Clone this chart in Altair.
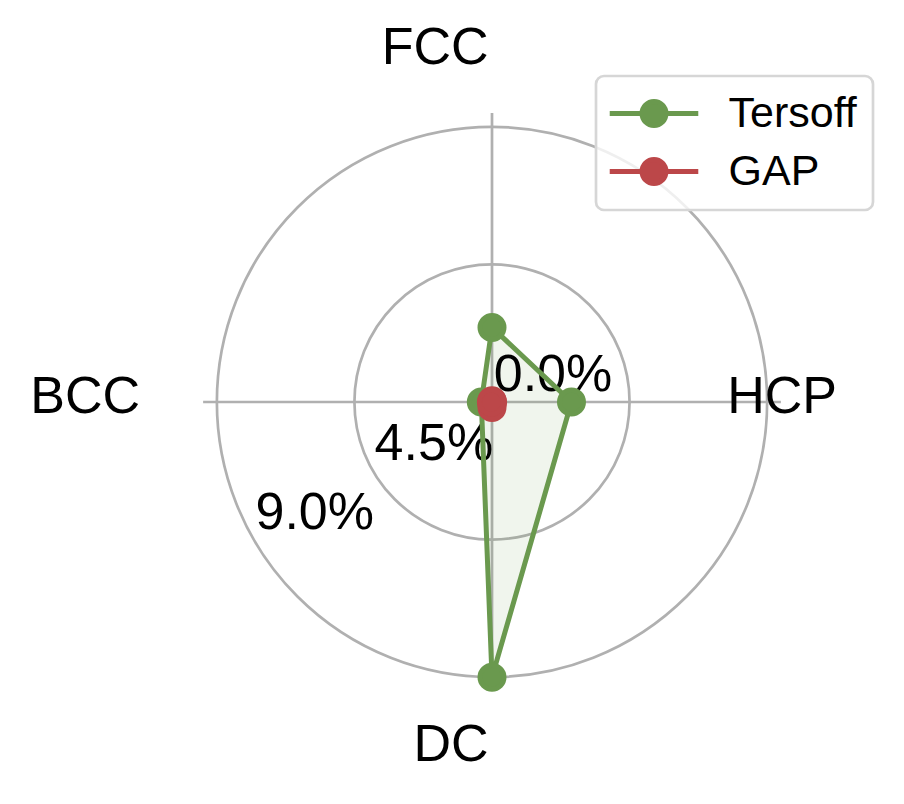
import math
import altair as alt
import pandas as pd

# ---------------- data ----------------
categories = ["FCC", "HCP", "DC", "BCC"]
series_names = ["Tersoff", "GAP"]
tersoff_values = [2.44, 2.60, 9.00, 0.35]
gap_values = [0.04, 0.02, 0.18, 0.02]
ring_values = [4.5, 9.0]
tick_values = [0.0, 4.5, 9.0]
tick_labels = ["0.0%", "4.5%", "9.0%"]
series_colors = ["#6a994e", "#bc4749"]

# ---------------- layout ----------------
FONT = "Liberation Sans"
N = len(categories)
W = 770                 # square plot area
PX_PER_UNIT = 30.57     # pixels per 1 %
D = (W / 2) / PX_PER_UNIT
R_SPOKE = 9.45
R_LABEL = 11.4
TICK_ANGLE = 7 * math.pi / 6
GRID = "#b0b0b0"

rows = []
for s, vals in zip(series_names, [tersoff_values, gap_values]):
    for i, (c, v) in enumerate(zip(categories, vals)):
        rows.append({"series": s, "category": c, "idx": i, "value": v})
df = pd.DataFrame(rows)
cat_df = pd.DataFrame({"category": categories, "idx": list(range(N))})
ring_df = pd.DataFrame({"r": ring_values})
tick_df = pd.DataFrame({"r": tick_values, "label": tick_labels})

xs = alt.Scale(domain=[-D, D], nice=False, zero=False)
ys = alt.Scale(domain=[-D, D], nice=False, zero=False)
cscale = alt.Scale(domain=series_names, range=series_colors)


def X(f):
    return alt.X(f, type="quantitative", scale=xs, axis=None)


def Y(f):
    return alt.Y(f, type="quantitative", scale=ys, axis=None)


theta_expr = f"datum.idx * 2 * PI / {N}"

spokes = alt.Chart(cat_df).transform_calculate(
    theta=theta_expr, x0="0", y0="0",
    xe=f"{R_SPOKE} * sin(datum.theta)", ye=f"{R_SPOKE} * cos(datum.theta)",
).mark_rule(stroke=GRID, strokeWidth=2.7).encode(
    x=X("x0"), y=Y("y0"), x2="xe:Q", y2="ye:Q"
)

rings = alt.Chart(ring_df).transform_calculate(x0="0", y0="0").mark_point(
    shape="circle", filled=False, stroke=GRID, strokeWidth=2.7, opacity=1
).encode(
    x=X("x0"), y=Y("y0"),
    size=alt.Size("r:Q", scale=alt.Scale(type="pow", exponent=2, domain=[0, D],
                                        range=[0, W * W]), legend=None),
)

polar = dict(theta=theta_expr,
             px="datum.value * sin(datum.theta)",
             py="datum.value * cos(datum.theta)")

fills = []
strokes = []
for name, col in zip(series_names, series_colors):
    base = alt.Chart(df).transform_filter(
        alt.datum.series == name
    ).transform_calculate(**polar)
    fills.append(base.mark_line(
        interpolate="linear-closed", fill=col, fillOpacity=0.1, strokeOpacity=0
    ).encode(x=X("px"), y=Y("py"), order=alt.Order("idx:Q")))
    strokes.append(base.mark_line(
        interpolate="linear-closed", stroke=col, strokeWidth=5, strokeJoin="round"
    ).encode(x=X("px"), y=Y("py"), order=alt.Order("idx:Q")))

ticks = alt.Chart(tick_df).transform_calculate(
    tx=f"datum.r * {math.cos(TICK_ANGLE)}", ty=f"datum.r * {math.sin(TICK_ANGLE)}"
).mark_text(font=FONT, fontSize=52, color="black", align="center",
            baseline="middle", dx=61, dy=-26.6).encode(
    x=X("tx"), y=Y("ty"), text="label:N"
)

LEG_PATH = "M-3.69,0L3.69,0M-1,0A1,1,0,1,0,1,0A1,1,0,1,0,-1,0Z"
leg = alt.Legend(
    title=None, orient="none", legendX=489, legendY=59,
    symbolType=LEG_PATH, symbolSize=576, symbolStrokeWidth=5,
    symbolOffset=20.5, labelOffset=53, rowPadding=13, padding=16,
    labelFontSize=43, labelFont=FONT, labelColor="black", labelLimit=400,
    strokeColor="#d6d6d6", fillColor="rgba(255,255,255,0.8)", cornerRadius=8,
)

points = alt.Chart(df).transform_calculate(**polar).mark_point(
    filled=True, size=576, strokeWidth=5, opacity=1
).encode(
    x=X("px"), y=Y("py"),
    fill=alt.Fill("series:N", scale=cscale, legend=leg),
    stroke=alt.Stroke("series:N", scale=cscale, legend=leg),
)

cats = alt.Chart(cat_df).transform_calculate(
    theta=theta_expr,
    lx=f"{R_LABEL} * sin(datum.theta)", ly=f"{R_LABEL} * cos(datum.theta)",
).mark_text(font=FONT, fontSize=52, color="black", align="right",
            baseline="middle", dx=-3.5, dy=-5.5).encode(
    x=X("lx"), y=Y("ly"), text="category:N"
)

chart = alt.layer(rings, spokes, *fills, ticks, *strokes, points, cats).properties(
    width=W, height=W,
    autosize=alt.AutoSizeParams(type="none"),
    padding={"left": 99, "top": 9, "right": 18, "bottom": 8},
).configure_view(stroke=None).configure_legend(strokeWidth=2.7)

chart.save("out.html", embed_options={"renderer": "svg", "actions": False})
